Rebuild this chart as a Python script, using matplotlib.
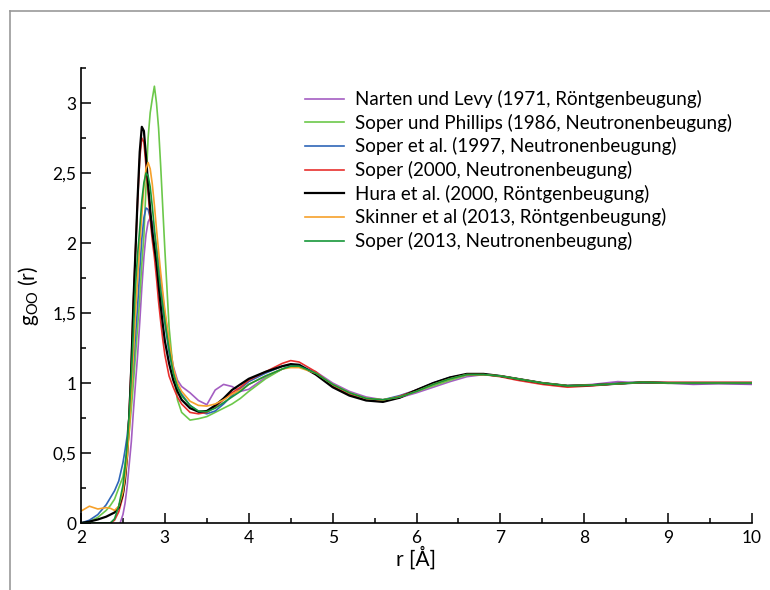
import matplotlib
matplotlib.use('Agg')
import matplotlib.pyplot as plt
from matplotlib.lines import Line2D
from matplotlib.ticker import FixedLocator, FuncFormatter

plt.rcParams['font.family'] = ['Lato', 'DejaVu Sans']

# r grid in Angstrom (shared by all data sets)
r = [2.0, 2.1, 2.2, 2.3, 2.35, 2.4, 2.45,
     2.5, 2.525, 2.55, 2.575, 2.6, 2.625, 2.65, 2.675, 2.7, 2.725, 2.75,
     2.775, 2.8, 2.825, 2.85, 2.875, 2.9, 2.925, 2.95, 2.975, 3.0,
     3.05, 3.1, 3.15, 3.2,
     3.3, 3.4, 3.5, 3.6, 3.7, 3.8, 3.9, 4.0,
     4.2, 4.4, 4.5, 4.6, 4.8, 5.0, 5.2, 5.4, 5.6, 5.8, 6.0, 6.2, 6.4, 6.6,
     6.8, 7.0, 7.2,
     7.5, 7.8, 8.1, 8.4, 8.7, 9.0, 9.3, 9.6, 10.0]

narten_1971 = [-0.05, -0.05, -0.05, -0.05, -0.05, -0.05, -0.03,
               0.06, 0.14, 0.26, 0.42, 0.58, 0.80, 1.00, 1.20, 1.43, 1.68, 1.90,
               2.06, 2.15, 2.18, 2.15, 2.07, 1.97, 1.86, 1.75, 1.62, 1.50,
               1.30, 1.12, 1.02, 0.975,
               0.93, 0.875, 0.845, 0.95, 0.99, 0.975, 0.94, 0.955,
               1.04, 1.10, 1.12, 1.12, 1.08, 1.0, 0.94, 0.90, 0.88, 0.895, 0.93, 0.97, 1.01, 1.045,
               1.06, 1.05, 1.03,
               1.0, 0.98, 0.99, 1.01, 1.0, 1.0, 0.99, 0.995, 0.99]

soper_phillips_1986 = [0.0, 0.01, 0.04, 0.09, 0.125, 0.17, 0.25,
                       0.33, 0.42, 0.52, 0.65, 0.82, 1.0, 1.20, 1.40, 1.60, 1.85, 2.05,
                       2.40, 2.75, 2.93, 3.03, 3.12, 3.0, 2.82, 2.55, 2.25, 1.95,
                       1.40, 1.08, 0.88, 0.79,
                       0.735, 0.745, 0.76, 0.79, 0.82, 0.85, 0.89, 0.94,
                       1.03, 1.10, 1.12, 1.12, 1.07, 0.99, 0.93, 0.89, 0.88, 0.90, 0.94, 0.98, 1.02, 1.055,
                       1.06, 1.05, 1.03,
                       1.0, 0.98, 0.985, 0.995, 1.005, 1.0, 1.0, 1.0, 1.0]

soper_1997 = [0.0, 0.02, 0.06, 0.13, 0.18, 0.23, 0.30,
              0.43, 0.52, 0.62, 0.77, 0.95, 1.12, 1.34, 1.55, 1.80, 2.03, 2.18,
              2.25, 2.24, 2.18, 2.09, 1.98, 1.87, 1.75, 1.64, 1.53, 1.43,
              1.22, 1.08, 0.98, 0.92,
              0.84, 0.795, 0.78, 0.80, 0.85, 0.91, 0.96, 1.01,
              1.07, 1.12, 1.13, 1.13, 1.07, 0.98, 0.92, 0.885, 0.88, 0.91, 0.95, 1.0, 1.04, 1.06,
              1.06, 1.05, 1.03,
              1.0, 0.98, 0.985, 0.995, 1.005, 1.0, 1.0, 1.0, 1.0]

soper_2000 = [0.0, 0.0, 0.0, 0.0, 0.0, 0.02, 0.08,
              0.19, 0.32, 0.52, 0.80, 1.15, 1.58, 1.95, 2.30, 2.60, 2.75, 2.72,
              2.55, 2.36, 2.17, 2.02, 1.90, 1.75, 1.58, 1.44, 1.31, 1.20,
              1.05, 0.97, 0.90, 0.85,
              0.79, 0.78, 0.79, 0.83, 0.88, 0.93, 0.97, 1.02,
              1.08, 1.14, 1.16, 1.15, 1.08, 0.98, 0.92, 0.885, 0.875, 0.905, 0.95, 0.995, 1.035, 1.06,
              1.06, 1.045, 1.02,
              0.99, 0.97, 0.98, 0.995, 1.005, 1.005, 1.005, 1.005, 1.005]

hura_2000 = [0.0, 0.01, 0.025, 0.045, 0.06, 0.075, 0.11,
             0.21, 0.31, 0.48, 0.76, 1.12, 1.58, 1.95, 2.32, 2.65, 2.83, 2.80,
             2.62, 2.42, 2.24, 2.08, 1.97, 1.86, 1.70, 1.55, 1.42, 1.30,
             1.14, 1.02, 0.94, 0.88,
             0.82, 0.795, 0.80, 0.84, 0.89, 0.95, 0.99, 1.03,
             1.08, 1.12, 1.135, 1.13, 1.06, 0.97, 0.91, 0.875, 0.865, 0.895, 0.95, 1.0, 1.04, 1.065,
             1.065, 1.05, 1.03,
             1.0, 0.98, 0.985, 0.995, 1.005, 1.0, 1.0, 1.0, 1.0]

skinner_2013 = [0.085, 0.12, 0.10, 0.11, 0.105, 0.09, 0.12,
                0.22, 0.33, 0.47, 0.66, 0.92, 1.20, 1.50, 1.75, 1.98, 2.20, 2.40,
                2.53, 2.575, 2.53, 2.42, 2.27, 2.10, 1.94, 1.79, 1.65, 1.52,
                1.30, 1.11, 1.0, 0.94,
                0.87, 0.84, 0.835, 0.85, 0.88, 0.92, 0.95, 0.99,
                1.05, 1.10, 1.11, 1.11, 1.07, 0.99, 0.93, 0.89, 0.88, 0.90, 0.94, 0.99, 1.03, 1.06,
                1.06, 1.05, 1.03,
                1.0, 0.98, 0.985, 0.995, 1.005, 1.0, 1.0, 1.0, 1.0]

soper_2013 = [0.0, 0.0, 0.0, 0.0, 0.0, 0.03, 0.12,
              0.27, 0.40, 0.56, 0.78, 1.05, 1.38, 1.70, 1.92, 2.10, 2.30, 2.43,
              2.50, 2.48, 2.40, 2.26, 2.10, 1.95, 1.80, 1.66, 1.55, 1.44,
              1.24, 1.07, 0.97, 0.91,
              0.84, 0.80, 0.795, 0.82, 0.86, 0.90, 0.94, 0.99,
              1.05, 1.10, 1.12, 1.12, 1.07, 0.99, 0.93, 0.89, 0.88, 0.90, 0.94, 0.99, 1.03, 1.06,
              1.06, 1.05, 1.03,
              1.0, 0.98, 0.985, 0.995, 1.005, 1.0, 1.0, 1.0, 1.0]

series = [
    (narten_1971, 'Narten und Levy (1971, Röntgenbeugung)', '#a45ec2', 1.2),
    (soper_phillips_1986, 'Soper und Phillips (1986, Neutronenbeugung)', '#6cc84a', 1.2),
    (soper_1997, 'Soper et al. (1997, Neutronenbeugung)', '#2f66b8', 1.2),
    (soper_2000, 'Soper (2000, Neutronenbeugung)', '#e8302e', 1.2),
    (hura_2000, 'Hura et al. (2000, Röntgenbeugung)', '#000000', 1.6),
    (skinner_2013, 'Skinner et al (2013, Röntgenbeugung)', '#f6a12b', 1.2),
    (soper_2013, 'Soper (2013, Neutronenbeugung)', '#17973a', 1.2),
]

fig = plt.figure(figsize=(7.7, 5.9), dpi=100)
ax = fig.add_axes([81 / 770, 67 / 590, 671 / 770, 455 / 590])

for g, label, color, lw in series:
    ax.plot(r, g, color=color, lw=lw, label=label)

ax.set_xlim(2, 10)
ax.set_ylim(0, 3.25)

for side in ['top', 'right']:
    ax.spines[side].set_visible(False)
for side in ['left', 'bottom']:
    ax.spines[side].set_linewidth(1.2)

ax.xaxis.set_major_locator(FixedLocator(range(2, 11)))
ax.xaxis.set_minor_locator(FixedLocator([2.5 + i for i in range(8)]))
ax.yaxis.set_major_locator(FixedLocator([0, 0.5, 1, 1.5, 2, 2.5, 3]))
ax.yaxis.set_minor_locator(FixedLocator([0.25, 0.75, 1.25, 1.75, 2.25, 2.75, 3.25]))
comma = FuncFormatter(lambda v, p: ('%g' % v).replace('.', ','))
ax.yaxis.set_major_formatter(comma)
ax.tick_params(which='both', direction='in', width=1.1, labelsize=12.5)
ax.tick_params(which='major', length=7)
ax.tick_params(which='minor', length=3.5)
ax.tick_params(axis='x', pad=5)

ax.set_xlabel('r [Å]', fontsize=15, labelpad=0)
ax.set_ylabel(r'g$_{\mathregular{OO}}$ (r)', fontsize=15, labelpad=8)

leg = ax.legend(loc='upper left', bbox_to_anchor=(305 / 770, 1 - 90 / 590),
                bbox_transform=fig.transFigure, frameon=False, fontsize=13.5,
                handlelength=2.1, handletextpad=0.55, labelspacing=0.3,
                borderpad=0, borderaxespad=0)

# grey frame of the original image (top and left edges)
fig.add_artist(Line2D([10 / 770, 1], [1 - 11 / 590, 1 - 11 / 590], color='#999999', lw=1.2))
fig.add_artist(Line2D([10 / 770, 10 / 770], [0, 1 - 11 / 590], color='#999999', lw=1.2))

fig.savefig('out.png', dpi=100)
